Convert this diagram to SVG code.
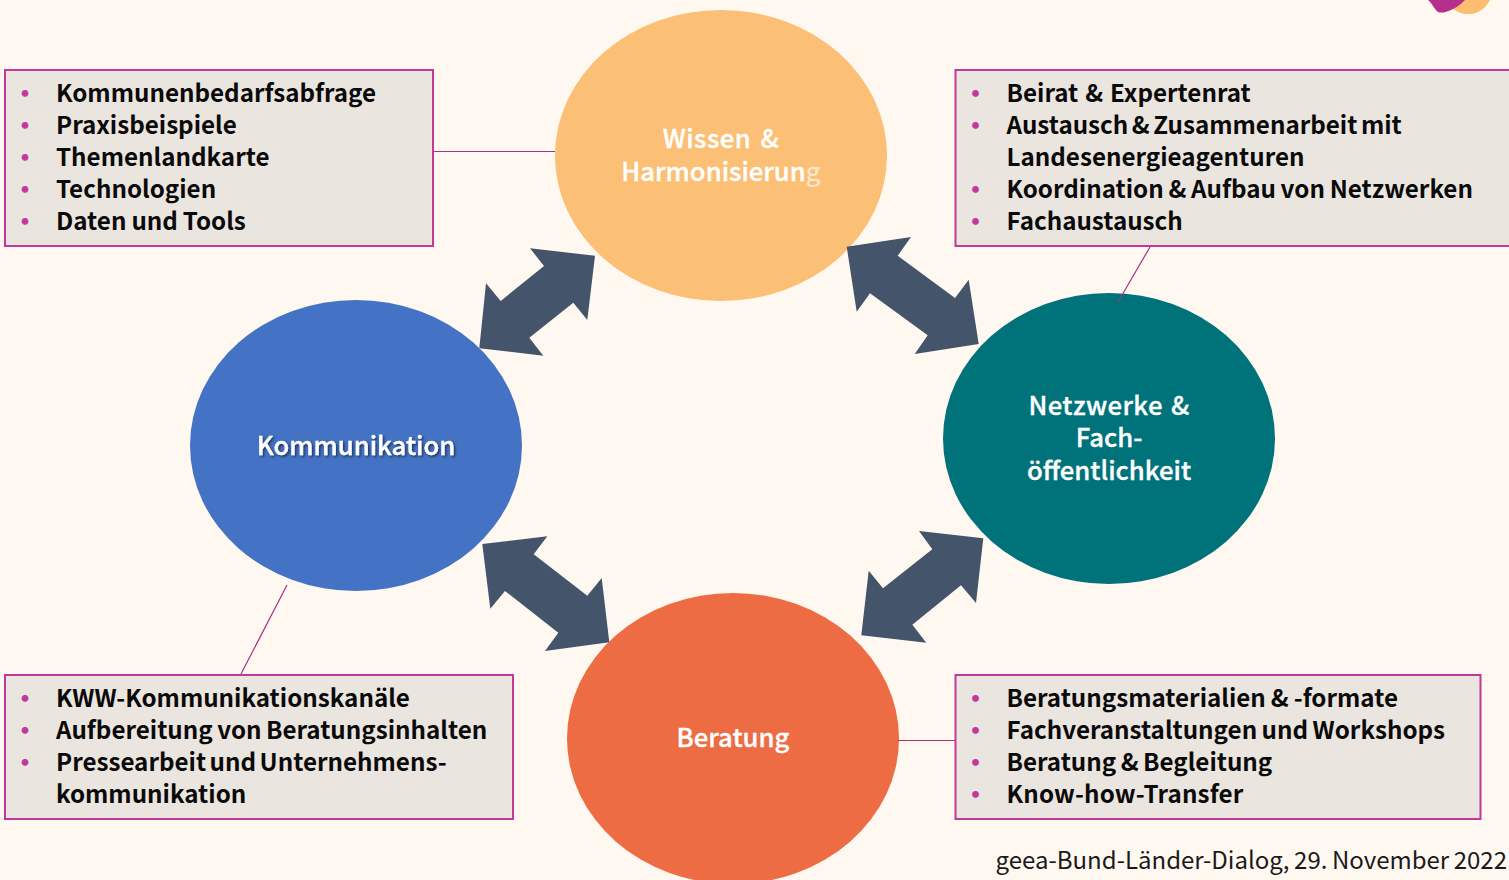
<svg xmlns="http://www.w3.org/2000/svg" width="1509" height="880" viewBox="0 0 1509 880">
<style>
text{font-family:"Noto Sans CJK SC","Noto Sans",sans-serif}
.box{fill:#ebe5df;stroke:#c0399b;stroke-width:2}
.t{font-size:24.200px;font-weight:700;fill:#0a0a0a;word-spacing:-2px}
.b{font-size:24px;font-weight:900;fill:#c0399b}
.n{font-size:25.700px;font-weight:500;fill:#fff;stroke:#fff;stroke-width:.35px;text-anchor:middle}
.a{fill:#44546a}
.l{stroke:#a8307f;stroke-width:1.2;fill:none}
</style>
<defs><filter id="sh" x="-10%" y="-30%" width="120%" height="160%"><feDropShadow dx="1.5" dy="1.5" stdDeviation="1" flood-color="#000" flood-opacity="0.55"/></filter></defs>
<rect width="1509" height="880" fill="#fff8f1"/>
<g id="logo">
<path d="M1452 8C1458 14 1470 16 1478 12C1484 9 1488 4 1490 0H1460Z" fill="#fdbd70"/>
<path d="M1428 0C1432 3 1434 9 1438 12C1444 14 1452 10 1458 6C1461 4 1463 2 1465 0Z" fill="#b5308c"/>
</g>
<g id="node-wissen">
<ellipse cx="721" cy="155.500" rx="166" ry="145.500" fill="#fbbf75"/>
<text class="n" x="721" y="147.500" style="letter-spacing:.5px;word-spacing:3px">Wissen &amp;</text>
<text class="n" x="721" y="180.500">Harmonisierun<tspan fill="#fde6c8" stroke="none">g</tspan></text>
</g>
<g id="node-kommunikation">
<ellipse cx="356" cy="445.500" rx="166" ry="145.500" fill="#4472c4"/>
<text class="n" x="356" y="454.500" filter="url(#sh)">Kommunikation</text>
</g>
<g id="node-netzwerke">
<ellipse cx="1109" cy="438.500" rx="166" ry="145.500" fill="#00727a"/>
<text class="n" x="1109" y="414.500" style="letter-spacing:.4px;word-spacing:2px">Netzwerke &amp;</text>
<text class="n" x="1109" y="446.500">Fach-</text>
<text class="n" x="1109" y="479.500">öffentlichkeit</text>
</g>
<g id="node-beratung">
<ellipse cx="733" cy="738.500" rx="166" ry="145.500" fill="#ee6c43"/>
<text class="n" x="733" y="746.500">Beratung</text>
</g>
<g id="connectors">
<path class="l" d="M433 151.500H555"/>
<path class="l" d="M1150 247L1118 302"/>
<path class="l" d="M287 585L241 674"/>
<path class="l" d="M898 740.500H956"/>
<polygon class="a" points="530,248.300 595,255.700 587.300,320 573.300,302.700 529.300,337.700 543.300,355.700 479.300,348.300 486,283.300 500.700,301 544,266"/>
<polygon class="a" points="846.700,246.700 911,237 897.700,255.700 955,298 968.700,279.700 978.700,344 914.700,354 927.700,335.300 870,293.300 856.700,311.700"/>
<polygon class="a" points="482.300,544 547.300,536.300 533.700,554.300 587.300,595.700 601.700,578 609.300,642.300 545,651 558.300,632.700 505,591 490.300,608.700"/>
<polygon class="a" points="919,531 983.300,538.300 976,603 961,585.300 912.300,624.700 926.300,642.700 861.300,635.300 868.700,570.700 883,588.300 932.300,549.300"/>
</g>
<g id="box-topleft">
<rect class="box" x="5" y="70" width="428" height="176"/>
<text class="b" x="13" y="102">•</text><text class="t" x="56" y="102">Kommunenbedarfsabfrage</text>
<text class="b" x="13" y="134">•</text><text class="t" x="56" y="134">Praxisbeispiele</text>
<text class="b" x="13" y="166">•</text><text class="t" x="56" y="166">Themenlandkarte</text>
<text class="b" x="13" y="198">•</text><text class="t" x="56" y="198">Technologien</text>
<text class="b" x="13" y="230">•</text><text class="t" x="56" y="230" style="word-spacing:-.5px">Daten und Tools</text>
</g>
<g id="box-topright">
<rect class="box" x="955.500" y="70" width="560" height="176"/>
<text class="b" x="963.500" y="102">•</text><text class="t" x="1006.500" y="102" style="word-spacing:1.500px">Beirat &amp; Expertenrat</text>
<text class="b" x="963.500" y="134">•</text><text class="t" x="1006.500" y="134">Austausch &amp; Zusammenarbeit mit</text>
<text class="t" x="1006.500" y="166">Landesenergieagenturen</text>
<text class="b" x="963.500" y="198">•</text><text class="t" x="1006.500" y="198" style="word-spacing:-.75px">Koordination &amp; Aufbau von Netzwerken</text>
<text class="b" x="963.500" y="230">•</text><text class="t" x="1006.500" y="230">Fachaustausch</text>
</g>
<g id="box-bottomleft">
<rect class="box" x="5" y="675" width="508" height="144"/>
<text class="b" x="13" y="707">•</text><text class="t" x="56" y="707">KWW-Kommunikationskanäle</text>
<text class="b" x="13" y="739">•</text><text class="t" x="56" y="739" style="word-spacing:-1px">Aufbereitung von Beratungsinhalten</text>
<text class="b" x="13" y="771">•</text><text class="t" x="56" y="771">Pressearbeit und Unternehmens-</text>
<text class="t" x="56" y="803">kommunikation</text>
</g>
<g id="box-bottomright">
<rect class="box" x="955.500" y="675" width="525" height="144"/>
<text class="b" x="963.500" y="707">•</text><text class="t" x="1006.500" y="707" style="word-spacing:-.5px">Beratungsmaterialien &amp; -formate</text>
<text class="b" x="963.500" y="739">•</text><text class="t" x="1006.500" y="739" style="word-spacing:-1px">Fachveranstaltungen und Workshops</text>
<text class="b" x="963.500" y="771">•</text><text class="t" x="1006.500" y="771" style="word-spacing:-1px">Beratung &amp; Begleitung</text>
<text class="b" x="963.500" y="803">•</text><text class="t" x="1006.500" y="803" style="letter-spacing:.15px">Know-how-Transfer</text>
</g>
<text x="1507" y="869" font-size="24" fill="#1a1a1a" text-anchor="end" style="word-spacing:-.8px">geea-Bund-Länder-Dialog, 29. November 2022</text>
</svg>
